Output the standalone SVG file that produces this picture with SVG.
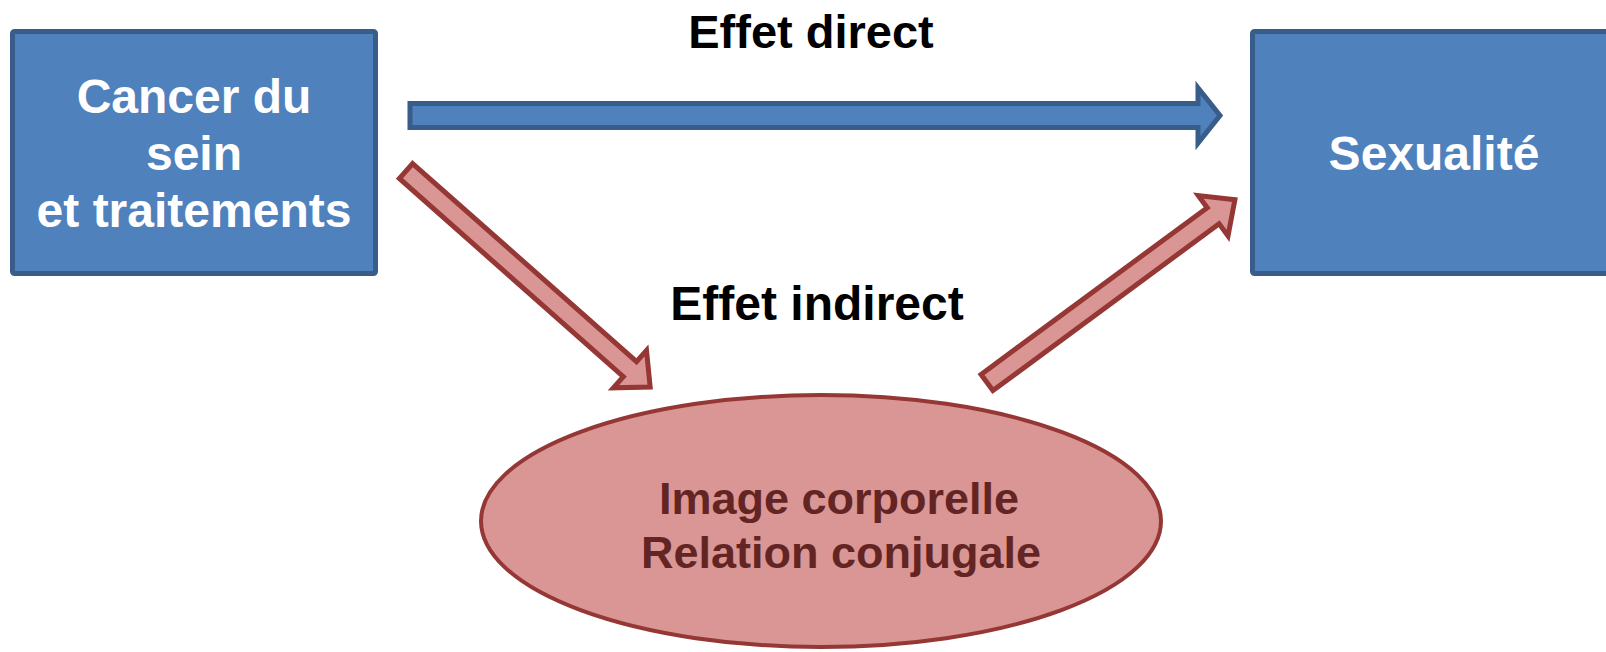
<svg xmlns="http://www.w3.org/2000/svg" width="1606" height="652" viewBox="0 0 1606 652">
<style>
.box{fill:#4F81BD;stroke:#385D8A;stroke-width:5}
.blue{fill:#4F81BD;stroke:#385D8A;stroke-width:5;stroke-linejoin:miter}
.red{fill:#D99694;stroke:#953735;stroke-width:5;stroke-linejoin:miter}
.wt{font-family:"Liberation Sans",Arial,sans-serif;font-weight:bold;font-size:48px;fill:#FFFFFF;text-anchor:middle}
.lbl{font-family:"Liberation Sans",Arial,sans-serif;font-weight:bold;fill:#000000;text-anchor:middle}
.et{font-family:"Liberation Sans",Arial,sans-serif;font-weight:bold;font-size:45px;fill:#632523;text-anchor:middle}
</style>
<rect width="1606" height="652" fill="#FFFFFF"/>
<g id="connectors">
  <polygon class="blue" points="410,103.5 1198,103.5 1198,88 1220,115.5 1198,143 1198,127.5 410,127.5"/>
  <g transform="translate(406,171) rotate(41.5)">
    <polygon class="red" points="0,-10 299,-10 299,-25 326,0 299,25 299,10 0,10"/>
  </g>
  <g transform="translate(987,382.5) rotate(-36.4)">
    <polygon class="red" points="0,-10 281,-10 281,-25 308,0 281,25 281,10 0,10"/>
  </g>
</g>
<g id="node-cancer">
  <rect class="box" x="12.5" y="31.5" width="363" height="242" rx="2"/>
  <text class="wt" x="194" y="113">Cancer du</text>
  <text class="wt" x="194" y="170">sein</text>
  <text class="wt" x="194" y="227">et traitements</text>
</g>
<g id="node-sexualite">
  <rect class="box" x="1252.5" y="31.5" width="370" height="242" rx="2"/>
  <text class="wt" x="1434" y="170">Sexualité</text>
</g>
<g id="node-image">
  <ellipse cx="821" cy="521" rx="340" ry="126" fill="#D99694" stroke="#953735" stroke-width="4"/>
  <text class="et" x="839" y="514">Image corporelle</text>
  <text class="et" x="841" y="568">Relation conjugale</text>
</g>
<g id="labels">
  <text class="lbl" x="811" y="48" font-size="47">Effet direct</text>
  <text class="lbl" x="817" y="320" font-size="48">Effet indirect</text>
</g>
</svg>
